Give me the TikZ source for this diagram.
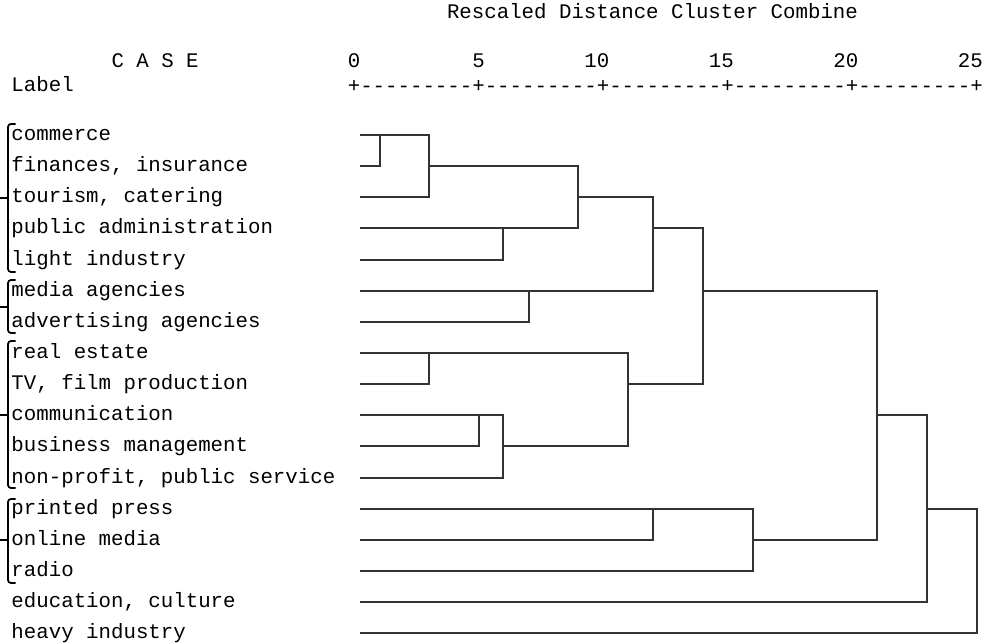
\documentclass[tikz,border=0pt]{standalone}
\usepackage{fontspec}
\setmonofont{Liberation Mono}
\begin{document}
\begin{tikzpicture}[x=1pt,y=-1pt,
  txt/.style={inner sep=0pt, outer sep=0pt, font=\ttfamily\fontsize{20.75}{24}\selectfont, text=black},
  lbl/.style={txt, anchor=base west},
  num/.style={txt, anchor=base east},
  link/.style={line width=1.5pt, draw=black!80},
  brk/.style={line width=1.8pt, draw=black, rounded corners=3pt}]
\useasboundingbox (0,0) rectangle (985,644);

% header
\node[lbl] (title) at (447,18.3) {Rescaled Distance Cluster Combine};
\node[lbl] (case) at (111.5,67.7) {C A S E};
\node[lbl] (label) at (11.5,91.7) {Label};
\node[lbl] (axis) at (347.8,92.8) {+---------+---------+---------+---------+---------+};
\node[num] (n0) at (360.2,67.7) {0};
\node[num] (n5) at (484.7,67.7) {5};
\node[num] (n10) at (609.2,67.7) {10};
\node[num] (n15) at (733.7,67.7) {15};
\node[num] (n20) at (858.2,67.7) {20};
\node[num] (n25) at (982.7,67.7) {25};

% case labels and leaf line starts
\foreach \i/\y/\t in {0/135/commerce, 1/166/{finances, insurance}, 2/197/{tourism, catering},
  3/228/public administration, 4/260/light industry, 5/291/media agencies,
  6/322/advertising agencies, 7/353/real estate, 8/384/{TV, film production},
  9/415/communication, 10/446/business management, 11/478/{non-profit, public service},
  12/509/printed press, 13/540/online media, 14/571/radio, 15/602/{education, culture},
  16/633/heavy industry}{
  \node[lbl] (l\i) at (11.5,{\y+5.6}) {\t};
  \coordinate (s\i) at (360,\y);
}

% merge points
\coordinate (m1) at (380,135);
\coordinate (m2) at (429,166);
\coordinate (m3) at (503,228);
\coordinate (m4) at (578,197);
\coordinate (m5) at (529,291);
\coordinate (m6) at (653,228);
\coordinate (m7) at (429,353);
\coordinate (m8) at (479,415);
\coordinate (m9) at (503,446);
\coordinate (m10) at (628,384);
\coordinate (m11) at (703,291);
\coordinate (m12) at (653,509);
\coordinate (m13) at (753,540);
\coordinate (m14) at (877,415);
\coordinate (m15) at (927,509);
\coordinate (m16) at (977,571);

% dendrogram links
\draw[link] (s0) -| (s1 -| m1) -- (s1);
\draw[link] (m1) -| (s2 -| m2) -- (s2);
\draw[link] (s3) -| (s4 -| m3) -- (s4);
\draw[link] (m2) -| (m3 -| m4) -- (m3);
\draw[link] (s5) -| (s6 -| m5) -- (s6);
\draw[link] (m4) -| (m5 -| m6) -- (m5);
\draw[link] (s7) -| (s8 -| m7) -- (s8);
\draw[link] (s9) -| (s10 -| m8) -- (s10);
\draw[link] (m8) -| (s11 -| m9) -- (s11);
\draw[link] (m7) -| (m9 -| m10) -- (m9);
\draw[link] (m6) -| (m10 -| m11) -- (m10);
\draw[link] (s12) -| (s13 -| m12) -- (s13);
\draw[link] (m12) -| (s14 -| m13) -- (s14);
\draw[link] (m11) -| (m13 -| m14) -- (m13);
\draw[link] (m14) -| (s15 -| m15) -- (s15);
\draw[link] (m15) -| (s16 -| m16) -- (s16);

% group brackets
\draw[brk] (15.5,124) -- (8,124) -- (8,272) -- (15.5,272);
\draw[brk] (8,198) -- (0,198);
\draw[brk] (15.5,280) -- (8,280) -- (8,333) -- (15.5,333);
\draw[brk] (8,307) -- (0,307);
\draw[brk] (15.5,341) -- (8,341) -- (8,488) -- (15.5,488);
\draw[brk] (8,415) -- (0,415);
\draw[brk] (15.5,499) -- (8,499) -- (8,583) -- (15.5,583);
\draw[brk] (8,540) -- (0,540);
\end{tikzpicture}
\end{document}
